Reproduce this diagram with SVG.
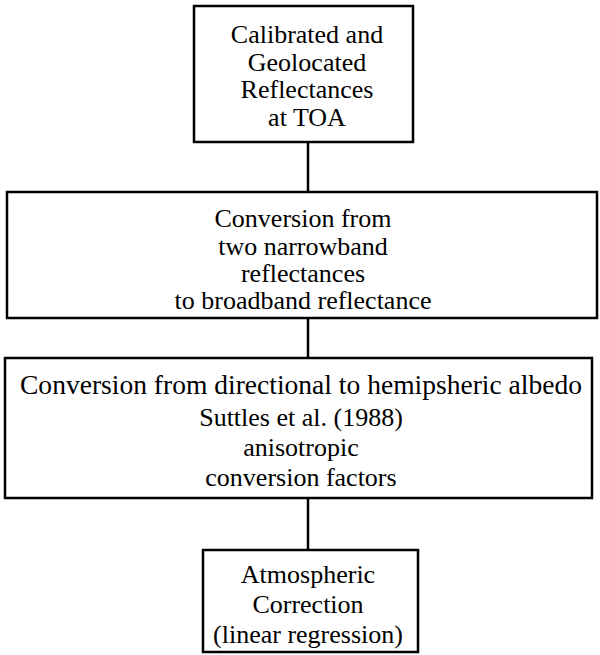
<svg xmlns="http://www.w3.org/2000/svg" width="600" height="655" viewBox="0 0 600 655">
<style>
.box{fill:#fff;stroke:#000;stroke-width:2.5}
.t{font-family:"Liberation Serif","Times New Roman",serif;font-size:26px;fill:#000;text-anchor:middle}
.c{stroke:#000;stroke-width:2.5;fill:none}
</style>
<rect width="600" height="655" fill="#fff"/>
<g id="connectors">
<line class="c" x1="308" y1="142" x2="308" y2="192"/>
<line class="c" x1="308" y1="318" x2="308" y2="358"/>
<line class="c" x1="308" y1="498" x2="308" y2="550"/>
</g>
<g id="n1">
<rect class="box" x="194" y="6" width="219" height="136"/>
<text class="t" x="307" y="43">Calibrated and</text>
<text class="t" x="307" y="71">Geolocated</text>
<text class="t" x="307" y="98">Reflectances</text>
<text class="t" x="307" y="126">at TOA</text>
</g>
<g id="n2">
<rect class="box" x="7" y="192" width="590" height="126"/>
<text class="t" x="303" y="227">Conversion from</text>
<text class="t" x="303" y="255">two narrowband</text>
<text class="t" x="303" y="282">reflectances</text>
<text class="t" x="303" y="309">to broadband reflectance</text>
</g>
<g id="n3">
<rect class="box" x="5" y="358" width="587" height="140"/>
<text class="t" x="301" y="394" style="font-size:27px" textLength="562" lengthAdjust="spacingAndGlyphs">Conversion from directional to hemipsheric albedo</text>
<text class="t" x="301" y="426">Suttles et al. (1988)</text>
<text class="t" x="301" y="456">anisotropic</text>
<text class="t" x="301" y="486">conversion factors</text>
</g>
<g id="n4">
<rect class="box" x="203" y="550" width="215" height="102"/>
<text class="t" x="308" y="583">Atmospheric</text>
<text class="t" x="308" y="613">Correction</text>
<text class="t" x="308" y="643">(linear regression)</text>
</g>
</svg>
